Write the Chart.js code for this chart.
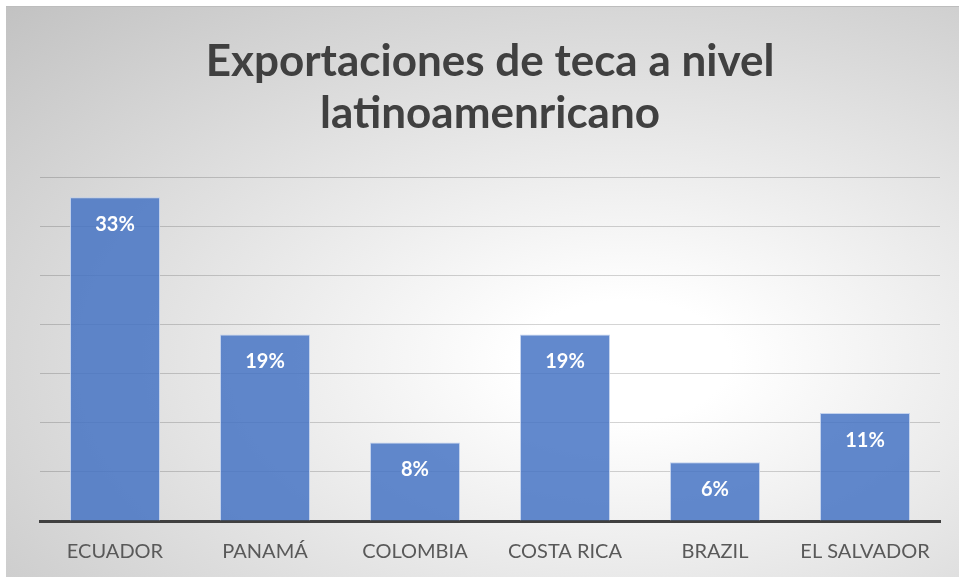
<!DOCTYPE html>
<html>
<head>
<meta charset="utf-8">
<script src="https://cdn.jsdelivr.net/npm/chart.js@4.4.1/dist/chart.umd.min.js"></script>
<style>
  html, body { margin: 0; padding: 0; background: #ffffff; }
  #wrap {
    position: absolute; left: 6px; top: 6px; width: 953px; height: 571px;
    background: radial-gradient(ellipse farthest-corner at 65% 62%, #ffffff 0%, #ffffff 12%, #c2c2c2 100%);
    border-top: 1px solid #bdbdbd;
    box-sizing: border-box;
  }
  canvas { display: block; }
</style>
</head>
<body>
<div id="wrap"><canvas id="c" width="953" height="570"></canvas></div>
<script>
const categories = ["ECUADOR", "PANAMÁ", "COLOMBIA", "COSTA RICA", "BRAZIL", "EL SALVADOR"];
const values = [33, 19, 8, 19, 6, 11];
const valueLabels = ["33%", "19%", "8%", "19%", "6%", "11%"];
const titleLines = ["Exportaciones de teca a nivel", "latinoamenricano"];

const FONT = "Lato, 'Open Sans', sans-serif";

const labelPlugin = {
  id: 'barLabels',
  afterDatasetsDraw(chart) {
    const ctx = chart.ctx;
    const meta = chart.getDatasetMeta(0);
    ctx.save();
    ctx.fillStyle = '#ffffff';
    ctx.font = "bold 20px " + FONT;
    ctx.textAlign = 'center';
    ctx.textBaseline = 'middle';
    meta.data.forEach((el, i) => {
      ctx.fillText(valueLabels[i], el.x, el.y + 27);
    });
    ctx.restore();
  }
};

new Chart(document.getElementById('c'), {
  type: 'bar',
  data: {
    labels: categories,
    datasets: [{
      data: values,
      backgroundColor: 'rgba(68,114,196,0.84)',
      borderColor: 'rgba(190,206,236,0.9)',
      borderWidth: 1,
      categoryPercentage: 1.0,
      barPercentage: 0.6
    }]
  },
  options: {
    responsive: false,
    animation: false,
    devicePixelRatio: 1,
    layout: { padding: { left: 34, right: 19, top: 0, bottom: 0 } },
    plugins: {
      legend: { display: false },
      tooltip: { enabled: false },
      title: {
        display: true,
        text: titleLines,
        color: '#404040',
        font: { family: FONT, size: 44, weight: 'bold', lineHeight: 1.2 },
        padding: { top: 28, bottom: 37 }
      }
    },
    scales: {
      x: {
        grid: { display: false, drawTicks: false },
        border: { display: true, color: '#404040', width: 3 },
        ticks: { color: '#595959', font: { family: FONT, size: 20 }, padding: 19, maxRotation: 0 },
        afterFit(scale) { scale.height = 56; }
      },
      y: {
        min: 0, max: 35,
        ticks: { display: false, stepSize: 5 },
        grid: { color: 'rgba(0,0,0,0.17)', lineWidth: 1, drawTicks: false },
        border: { display: false }
      }
    }
  },
  plugins: [labelPlugin]
});
</script>
</body>
</html>
